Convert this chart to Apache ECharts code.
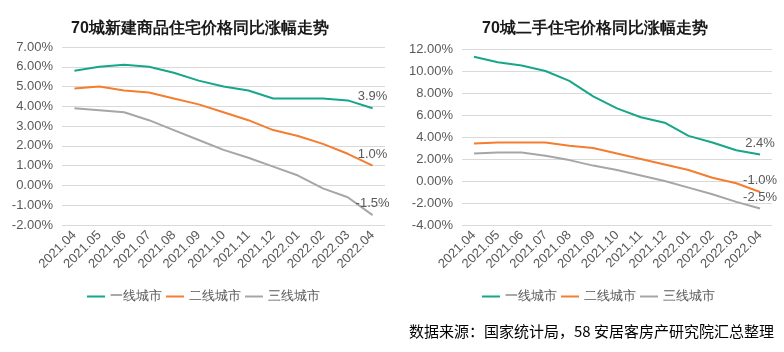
<!DOCTYPE html>
<html>
<head>
<meta charset="utf-8">
<script src="https://cdn.jsdelivr.net/npm/echarts@6/dist/echarts.min.js"></script>
<style>
  html, body { margin: 0; padding: 0; background: #fff; }
  #chart { width: 784px; height: 352px; }
</style>
</head>
<body>
<div id="chart"></div>
<script>
const months = [
  "2021.04", "2021.05", "2021.06", "2021.07", "2021.08", "2021.09", "2021.10",
  "2021.11", "2021.12", "2022.01", "2022.02", "2022.03", "2022.04",
];
const seriesNames = ["一线城市", "二线城市", "三线城市"];

// 新建商品住宅
const newTier1 = [5.8, 6.0, 6.1, 6.0, 5.7, 5.3, 5.0, 4.8, 4.4, 4.4, 4.4, 4.3, 3.9];
const newTier2 = [4.9, 5.0, 4.8, 4.7, 4.4, 4.1, 3.7, 3.3, 2.8, 2.5, 2.1, 1.6, 1.0];
const newTier3 = [3.9, 3.8, 3.7, 3.3, 2.8, 2.3, 1.8, 1.4, 0.95, 0.5, -0.15, -0.6, -1.5];

// 二手住宅
const usedTier1 = [11.3, 10.8, 10.5, 10.0, 9.1, 7.7, 6.6, 5.8, 5.3, 4.1, 3.5, 2.8, 2.4];
const usedTier2 = [3.4, 3.5, 3.5, 3.5, 3.2, 3.0, 2.5, 2.0, 1.5, 1.0, 0.3, -0.2, -1.0];
const usedTier3 = [2.5, 2.6, 2.6, 2.3, 1.9, 1.4, 1.0, 0.5, 0.0, -0.6, -1.2, -1.9, -2.5];

const colors = ["#17a689", "#f47d30", "#a6a6a6"];
const textColor = "#595959";

const chart = echarts.init(document.getElementById("chart"));

function lineSeries(name, values, idx, color) {
  const last = values.length - 1;
  return {
    name,
    type: "line",
    xAxisIndex: idx,
    yAxisIndex: idx,
    symbol: "circle",
    symbolSize: 0.01,
    showSymbol: true,
    smooth: false,
    color,
    lineStyle: { width: 2, color },
    data: values.map((v, i) =>
      i === last
        ? {
            value: v,
            label: {
              show: true,
              position: "top",
              distance: 5,
              color: textColor,
              fontSize: 13,
              formatter: (p) => p.value.toFixed(1) + "%",
            },
          }
        : v,
    ),
  };
}

function xAxis(idx) {
  return {
    type: "category",
    gridIndex: idx,
    data: months,
    boundaryGap: true,
    axisLine: { show: false },
    axisTick: { show: false },
    axisLabel: { color: textColor, fontSize: 13, rotate: 45, margin: 8, interval: 0 },
  };
}

function yAxis(idx, min, max, interval) {
  return {
    type: "value",
    gridIndex: idx,
    min,
    max,
    interval,
    axisLine: { show: false },
    axisTick: { show: false },
    splitLine: { lineStyle: { color: "#d9d9d9", width: 1 } },
    axisLabel: {
      color: textColor,
      fontSize: 13,
      margin: 9,
      formatter: (v) => v.toFixed(2) + "%",
    },
  };
}

function legend(left) {
  return {
    top: 285,
    left,
    itemWidth: 18,
    itemHeight: 10,
    itemGap: 4,
    icon: "path://M0,4 L18,4 L18,6 L0,6 Z",
    textStyle: { color: textColor, fontSize: 13 },
    data: seriesNames,
  };
}

chart.setOption({
  backgroundColor: "#fff",
  animation: false,
  title: [
    {
      text: "70城新建商品住宅价格同比涨幅走势",
      left: 195,
      top: 16,
      textAlign: "center",
      textStyle: { fontSize: 16, fontWeight: "bold", color: "#1a1a1a" },
    },
    {
      text: "70城二手住宅价格同比涨幅走势",
      left: 590,
      top: 16,
      textAlign: "center",
      textStyle: { fontSize: 16, fontWeight: "bold", color: "#1a1a1a" },
    },
  ],
  graphic: [
    {
      type: "text",
      right: 10,
      top: 324,
      style: {
        text: "数据来源：国家统计局，58 安居客房产研究院汇总整理",
        fill: "#000",
        fontSize: 15,
        fontFamily: "Noto Sans CJK SC",
      },
    },
  ],
  legend: [legend(82), legend(477)],
  grid: [
    { left: 62, right: 399, top: 47, bottom: 127 },
    { left: 462, right: 12, top: 49, bottom: 127 },
  ],
  xAxis: [xAxis(0), xAxis(1)],
  yAxis: [yAxis(0, -2, 7, 1), yAxis(1, -4, 12, 2)],
  series: [
    lineSeries(seriesNames[0], newTier1, 0, colors[0]),
    lineSeries(seriesNames[1], newTier2, 0, colors[1]),
    lineSeries(seriesNames[2], newTier3, 0, colors[2]),
    lineSeries(seriesNames[0], usedTier1, 1, colors[0]),
    lineSeries(seriesNames[1], usedTier2, 1, colors[1]),
    lineSeries(seriesNames[2], usedTier3, 1, colors[2]),
  ],
});
</script>
</body>
</html>
